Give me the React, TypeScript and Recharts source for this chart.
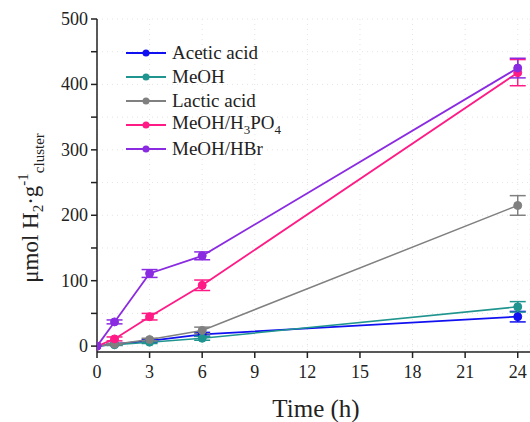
import React from "react";
import {
  LineChart, Line, XAxis, YAxis, CartesianGrid, Legend, ErrorBar,
} from "recharts";

const FONT = "Liberation Serif, Times New Roman, serif";

// 反応時間 (h)
const TIME = [0, 1, 3, 6, 24];

// 各条件の H2 生成量と誤差
const ACETIC = [0, 3, 8, 18, 45];
const ACETIC_ERR = [0, 1, 2, 3, 8];
const MEOH = [0, 2, 6, 12, 60];
const MEOH_ERR = [0, 1, 2, 3, 8];
const LACTIC = [0, 3, 10, 24, 215];
const LACTIC_ERR = [0, 1, 2, 5, 15];
const MEOH_H3PO4 = [0, 11, 45, 93, 418];
const MEOH_H3PO4_ERR = [0, 3, 5, 8, 20];
const MEOH_HBR = [0, 37, 111, 138, 425];
const MEOH_HBR_ERR = [0, 3, 6, 6, 15];

const X_TICKS = [0, 3, 6, 9, 12, 15, 18, 21, 24];
const Y_TICKS = [0, 50, 100, 150, 200, 250, 300, 350, 400, 450, 500];

type Series = {
  key: string;
  errKey: string;
  name: string;
  sub?: boolean;
  color: string;
  width: number;
};

const SERIES: Series[] = [
  { key: "acetic", errKey: "aceticErr", name: "Acetic acid", color: "#1010f0", width: 1.8 },
  { key: "meoh", errKey: "meohErr", name: "MeOH", color: "#20958f", width: 1.5 },
  { key: "lactic", errKey: "lacticErr", name: "Lactic acid", color: "#808080", width: 1.5 },
  { key: "h3po4", errKey: "h3po4Err", name: "MeOH/H3PO4", sub: true, color: "#ff1a85", width: 1.8 },
  { key: "hbr", errKey: "hbrErr", name: "MeOH/HBr", color: "#8a2be2", width: 1.8 },
];

const data = TIME.map((t, i) => ({
  t,
  acetic: ACETIC[i], aceticErr: ACETIC_ERR[i],
  meoh: MEOH[i], meohErr: MEOH_ERR[i],
  lactic: LACTIC[i], lacticErr: LACTIC_ERR[i],
  h3po4: MEOH_H3PO4[i], h3po4Err: MEOH_H3PO4_ERR[i],
  hbr: MEOH_HBR[i], hbrErr: MEOH_HBR_ERR[i],
}));

function renderLegend() {
  return (
    <div style={{ fontFamily: FONT, fontSize: 19, color: "#222" }}>
      {SERIES.map((s) => (
        <div key={s.key} style={{ display: "flex", alignItems: "center", height: 24 }}>
          <svg width={46} height={12}>
            <line x1={0} y1={6} x2={40} y2={6} stroke={s.color} strokeWidth={1.8} />
            <circle cx={20} cy={6} r={3.5} fill={s.color} />
          </svg>
          {s.sub ? (
            <span>MeOH/H<sub style={{ fontSize: 13 }}>3</sub>PO<sub style={{ fontSize: 13 }}>4</sub></span>
          ) : (
            <span>{s.name}</span>
          )}
        </div>
      ))}
    </div>
  );
}

// 目盛りラベル（セリフ体）
const XTick = ({ x, y, payload }: any) => (
  <text x={x} y={y + 18} textAnchor="middle" fontFamily={FONT} fontSize={18} fill="#222">
    {payload.value}
  </text>
);

const YTick = ({ x, y, payload }: any) =>
  payload.value % 100 === 0 ? (
    <text x={x - 1} y={y + 6} textAnchor="end" fontFamily={FONT} fontSize={18} fill="#222">
      {payload.value}
    </text>
  ) : null;

const YTitle = () => (
  <text
    x={38} y={208} transform="rotate(-90 38 208)" textAnchor="middle"
    fontFamily={FONT} fontSize={23} fill="#222"
  >
    μmol H<tspan dy={5} fontSize={15}>2</tspan>
    <tspan dy={-5}>·g</tspan>
    <tspan dy={-10} fontSize={15}>-1</tspan>
    <tspan dy={16} fontSize={15}>cluster</tspan>
  </text>
);

const XTitle = () => (
  <text x={316} y={417} textAnchor="middle" fontFamily={FONT} fontSize={25} fill="#222">
    Time (h)
  </text>
);

export default function App() {
  return (
    <>
      {/* 余白なしで 530x422 全体を使う */}
      <style>{"body{margin:0}"}</style>
      <LineChart
        width={530} height={422} data={data}
        margin={{ top: 19, right: 0, left: 8, bottom: 20 }}
      >
        <CartesianGrid strokeDasharray="1 4" stroke="#e4e4e4" />
        <XAxis
          dataKey="t" type="number" domain={[0, 24.7]} ticks={X_TICKS} allowDataOverflow
          height={50} tickSize={6} stroke="#222" strokeWidth={1.5}
          tick={<XTick />}
          label={<XTitle />}
        />
        <XAxis xAxisId="top" orientation="top" dataKey="t" type="number" domain={[0, 24.7]}
          tick={false} tickLine={false} height={0} stroke="#444" strokeWidth={1.5} />
        <YAxis
          type="number" domain={[-9, 500]} ticks={Y_TICKS} allowDataOverflow
          width={89} tickSize={6} stroke="#222" strokeWidth={1.5}
          tick={<YTick />}
          label={<YTitle />}
        />
        <Legend
          layout="vertical" align="center" verticalAlign="middle"
          content={renderLegend}
          wrapperStyle={{ top: 41, left: 126, width: 260 }}
        />
        {SERIES.map((s) => (
          <Line
            key={s.key} dataKey={s.key} name={s.name} type="linear"
            stroke={s.color} strokeWidth={s.width}
            dot={{ r: 4, fill: s.color, stroke: s.color, strokeWidth: 1 }}
            isAnimationActive={false}
          >
            <ErrorBar dataKey={s.errKey} direction="y" width={8} stroke={s.color} strokeWidth={1.5} />
          </Line>
        ))}
      </LineChart>
    </>
  );
}
